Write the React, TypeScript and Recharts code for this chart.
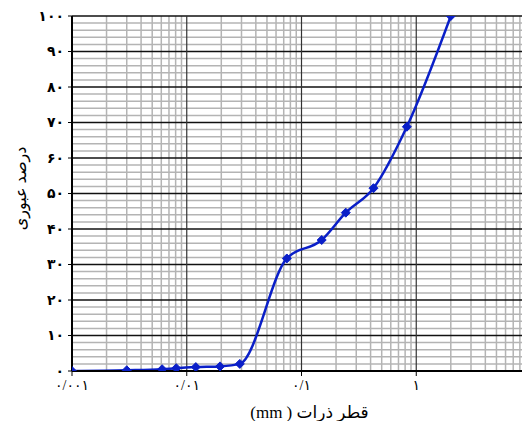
import React from 'react';
import { LineChart, Line, XAxis, YAxis, ReferenceLine, Label } from 'recharts';

// particle diameter (mm)
const diameters = [0.001, 0.003, 0.0061, 0.0081, 0.012, 0.0195, 0.029, 0.0745, 0.15, 0.243, 0.424, 0.828, 2.0];
// percent passing
const passing = [0, 0.2, 0.5, 0.8, 1.1, 1.3, 2, 31.7, 36.9, 44.6, 51.5, 68.8, 100];

const xTicks = [0.001, 0.01, 0.1, 1, 10];
const xTickLabels = ['۰/۰۰۱', '۰/۰۱', '۰/۱', '۱', '۱۰'];
const yTicks = [0, 10, 20, 30, 40, 50, 60, 70, 80, 90, 100];
const yTickLabels = ['۰', '۱۰', '۲۰', '۳۰', '۴۰', '۵۰', '۶۰', '۷۰', '۸۰', '۹۰', '۱۰۰'];

const decades = [0.001, 0.01, 0.1, 1];
const minorMultipliers = [2, 3, 4, 5, 6, 7, 8, 9];
const xMinor = decades.flatMap((d) => minorMultipliers.map((m) => +(d * m).toPrecision(3)));
const yMinor = [2, 4, 6, 8, 12, 14, 16, 18, 22, 24, 26, 28, 32, 34, 36, 38, 42, 44, 46, 48, 52, 54, 56, 58, 62, 64, 66, 68, 72, 74, 76, 78, 82, 84, 86, 88, 92, 94, 96, 98];
const yMajor = [10, 20, 30, 40, 50, 60, 70, 80, 90, 100];

const data = diameters.map((d, i) => ({ d, p: passing[i] }));

const BLUE = '#0a1fc8';
const FONT = '"Liberation Serif", "DejaVu Sans", serif';

const Diamond = (props: any) => {
  const { cx, cy } = props;
  if (cx == null || cy == null) return null;
  const r = 4.5;
  return <polygon points={`${cx},${cy - r} ${cx + r},${cy} ${cx},${cy + r} ${cx - r},${cy}`} fill={BLUE} stroke={BLUE} />;
};

export default function App() {
  return (
    <div style={{ width: 522, height: 413, overflow: 'hidden' }}>
      <LineChart width={540} height={413} data={data} margin={{ top: 8, right: 17, bottom: 0, left: 0 }}>
        <XAxis
          dataKey="d"
          type="number"
          scale="log"
          domain={[0.001, 10]}
          ticks={xTicks}
          allowDataOverflow
          tickFormatter={(v: number) => xTickLabels[xTicks.indexOf(v)] ?? ''}
          tick={{ fill: '#000', fontSize: 14, fontFamily: FONT }}
          tickSize={5}
          tickMargin={4}
          tickLine={{ stroke: '#000', strokeWidth: 1 }}
          axisLine={{ stroke: '#000', strokeWidth: 2 }}
          height={50}
        >
          <Label value="(mm ) قطر ذرات" position="insideBottom" offset={3} dx={8} style={{ fill: '#000', fontSize: 17, fontFamily: FONT }} />
        </XAxis>
        <YAxis
          type="number"
          domain={[0, 100]}
          ticks={yTicks}
          allowDataOverflow
          tickFormatter={(v: number) => yTickLabels[yTicks.indexOf(v)] ?? ''}
          tick={{ fill: '#000', fontSize: 14, fontFamily: FONT, fontWeight: 'bold' }}
          tickSize={4}
          tickMargin={4}
          tickLine={{ stroke: '#000', strokeWidth: 1 }}
          axisLine={{ stroke: '#000', strokeWidth: 2 }}
          width={64}
        >
          <Label value="درصد عبوری" angle={-90} position="insideLeft" offset={12} dy={-5} style={{ fill: '#000', fontSize: 16, fontFamily: FONT, textAnchor: 'middle' }} />
        </YAxis>
        {xMinor.map((x) => (
          <ReferenceLine key={'xm' + x} x={x} stroke="#b4b4b4" strokeWidth={1.5} ifOverflow="hidden" />
        ))}
        {yMinor.map((y) => (
          <ReferenceLine key={'ym' + y} y={y} stroke="#b4b4b4" strokeWidth={1.5} />
        ))}
        {yMajor.map((y) => (
          <ReferenceLine key={'yM' + y} y={y} stroke="#111" strokeWidth={1.6} />
        ))}
        {decades.slice(1).concat([10]).map((x) => (
          <ReferenceLine key={'xM' + x} x={x} stroke="#333" strokeWidth={1.2} />
        ))}
        <Line
          dataKey="p"
          type="monotone"
          stroke={BLUE}
          strokeWidth={2.5}
          dot={<Diamond />}
          activeDot={false}
          isAnimationActive={false}
        />
      </LineChart>
    </div>
  );
}
